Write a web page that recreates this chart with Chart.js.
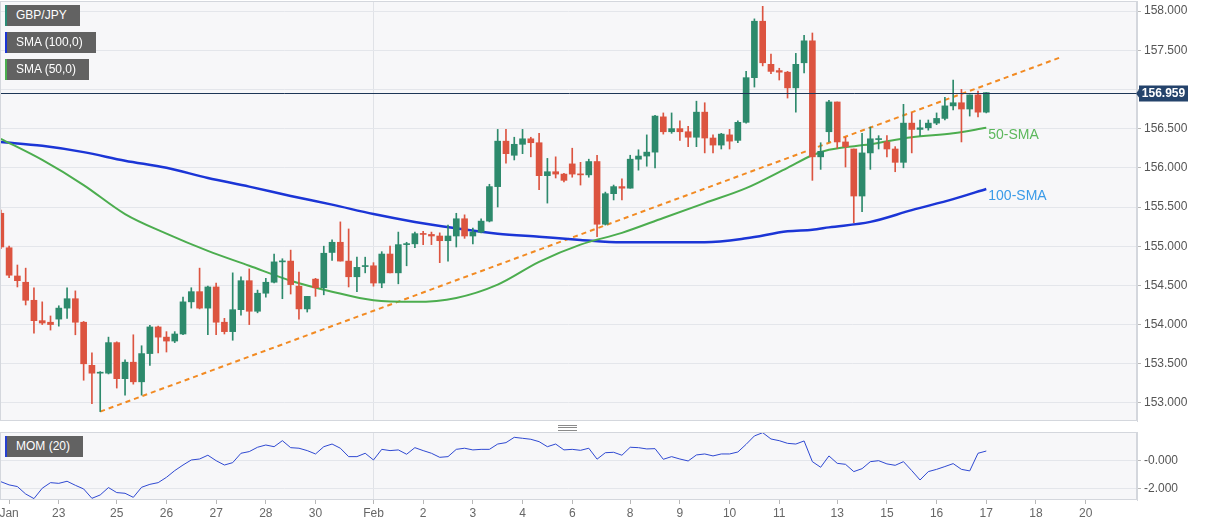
<!DOCTYPE html>
<html>
<head>
<meta charset="utf-8">
<title>GBP/JPY 4H</title>
<script src="https://cdn.jsdelivr.net/npm/chart.js@4.4.1/dist/chart.umd.min.js"></script>
<style>
  html, body { margin: 0; padding: 0; background: #fff; }
  #wrap { position: relative; width: 1207px; height: 526px; overflow: hidden; font-family: 'Liberation Sans', Arial, sans-serif; }
  #main { position: absolute; left: 0; top: 0; }
  #mom { position: absolute; left: 0; top: 422px; }
  .tag { position: absolute; left: 5px; height: 21px; line-height: 21px; background: #626262; color: #fff;
         font-size: 12px; padding: 0 13px 0 9px; border-left: 2px solid; white-space: nowrap; }
  .grip { position: absolute; left: 558px; top: 425px; width: 19px; height: 4px; border-top: 1px solid #8a8a8a; border-bottom: 1px solid #8a8a8a; }
  .grip div { margin-top: 1px; border-top: 1px solid #8a8a8a; }
</style>
</head>
<body>
<div id="wrap">
  <canvas id="main" width="1207" height="422"></canvas>
  <canvas id="mom" width="1207" height="104"></canvas>
  <div class="tag" style="top:5px;border-color:#2a8c76">GBP/JPY</div>
  <div class="tag" style="top:32px;border-color:#1b35d6">SMA (100,0)</div>
  <div class="tag" style="top:59px;border-color:#4caf50">SMA (50,0)</div>
  <div class="tag" style="top:436px;border-color:#2740d0">MOM (20)</div>
  <div class="grip"><div></div></div>
</div>
<script>
// 4-hour candles, index 0 = first candle on the left edge
const opens = [
  155.42, 154.98, 154.62, 154.54, 154.31, 154.05, 154.03, 154.07, 154.21, 154.33,
  154.03, 153.48, 153.38, 153.38, 153.77, 153.31, 153.52, 153.27, 153.63, 153.97,
  153.84, 153.79, 153.88, 154.29, 154.42, 154.21, 154.48, 154.03, 153.91, 154.19,
  154.56, 154.17, 154.40, 154.54, 154.80, 154.81, 154.49, 154.20, 154.58, 154.47,
  154.92, 155.05, 154.81, 154.61, 154.74, 154.75, 154.53, 154.90, 154.66, 155.02,
  155.03, 155.16, 155.15, 155.13, 155.07, 155.13, 155.35, 155.13, 155.18, 155.32,
  155.76, 156.34, 156.16, 156.30, 156.37, 156.32, 155.90, 155.95, 155.92, 156.05,
  155.92, 155.91, 156.08, 155.28, 155.67, 155.76, 155.74, 156.11, 156.15, 156.20,
  156.65, 156.46, 156.50, 156.46, 156.39, 156.71, 156.38, 156.29, 156.42, 156.35,
  156.58, 157.15, 157.87, 157.32, 157.24, 157.22, 157.02, 157.34, 157.62, 156.14,
  156.46, 156.84, 156.33, 156.24, 155.64, 156.19, 156.36, 156.33, 156.24, 156.07,
  156.57, 156.49, 156.51, 156.57, 156.63, 156.79, 156.83, 156.75, 156.93, 156.71
];
const highs = [
  155.46, 155.00, 154.76, 154.72, 154.47, 154.29, 154.11, 154.24, 154.47, 154.43,
  154.04, 153.64, 153.40, 153.84, 153.78, 153.55, 153.87, 153.73, 153.99, 153.98,
  153.91, 153.91, 154.35, 154.47, 154.72, 154.49, 154.53, 154.08, 154.66, 154.61,
  154.71, 154.44, 154.59, 154.90, 154.84, 154.95, 154.67, 154.36, 154.59, 155.00,
  155.08, 155.31, 155.22, 154.86, 154.86, 154.79, 154.93, 155.00, 155.18, 155.05,
  155.18, 155.19, 155.18, 155.17, 155.27, 155.42, 155.40, 155.23, 155.35, 155.79,
  156.49, 156.49, 156.39, 156.49, 156.39, 156.44, 156.12, 156.14, 155.93, 156.25,
  156.07, 156.11, 156.16, 155.69, 155.78, 155.86, 156.16, 156.23, 156.42, 156.67,
  156.70, 156.70, 156.60, 156.53, 156.85, 156.83, 156.42, 156.44, 156.49, 156.60,
  157.23, 157.90, 158.06, 157.45, 157.27, 157.23, 157.46, 157.69, 157.72, 156.32,
  156.86, 156.84, 156.39, 156.24, 156.44, 156.52, 156.41, 156.41, 156.27, 156.81,
  156.70, 156.61, 156.61, 156.70, 156.90, 157.12, 157.00, 156.93, 156.98, 156.96
];
const lows = [
  154.97, 154.60, 154.48, 154.25, 153.89, 154.00, 153.93, 153.98, 154.08, 153.87,
  153.29, 152.99, 152.89, 153.37, 153.19, 153.10, 153.24, 153.10, 153.48, 153.64,
  153.65, 153.77, 153.87, 154.21, 154.20, 153.87, 153.87, 153.88, 153.80, 154.12,
  154.00, 154.15, 154.35, 154.53, 154.33, 154.39, 154.07, 154.16, 154.36, 154.38,
  154.82, 154.81, 154.48, 154.42, 154.66, 154.49, 154.47, 154.66, 154.52, 154.75,
  154.98, 155.02, 155.02, 154.79, 154.81, 154.99, 155.10, 155.03, 155.17, 155.31,
  155.50, 156.06, 156.10, 156.18, 156.14, 155.72, 155.55, 155.87, 155.82, 155.88,
  155.78, 155.88, 155.12, 155.27, 155.59, 155.59, 155.74, 155.97, 156.02, 156.00,
  156.43, 156.44, 156.35, 156.27, 156.27, 156.19, 156.19, 156.24, 156.24, 156.32,
  156.57, 157.03, 157.30, 157.20, 157.12, 156.89, 156.71, 157.21, 155.84, 155.98,
  156.33, 156.25, 156.01, 155.30, 155.44, 155.98, 156.24, 156.14, 155.95, 156.00,
  156.19, 156.41, 156.48, 156.55, 156.61, 156.74, 156.33, 156.66, 156.65, 156.70
];
const closes = [
  154.99, 154.63, 154.56, 154.31, 154.05, 154.02, 154.00, 154.21, 154.33, 154.03,
  153.50, 153.38, 153.39, 153.77, 153.31, 153.52, 153.27, 153.63, 153.97, 153.84,
  153.79, 153.88, 154.29, 154.42, 154.21, 154.48, 154.03, 153.91, 154.19, 154.56,
  154.17, 154.40, 154.54, 154.80, 154.81, 154.51, 154.20, 154.36, 154.47, 154.91,
  155.05, 154.81, 154.61, 154.73, 154.75, 154.53, 154.90, 154.66, 155.02, 155.03,
  155.16, 155.15, 155.13, 155.07, 155.13, 155.35, 155.13, 155.18, 155.32, 155.76,
  156.34, 156.18, 156.30, 156.37, 156.32, 155.90, 155.95, 155.92, 155.84, 155.92,
  155.91, 156.08, 155.28, 155.67, 155.76, 155.74, 156.11, 156.15, 156.20, 156.66,
  156.46, 156.50, 156.46, 156.39, 156.71, 156.38, 156.29, 156.43, 156.34, 156.58,
  157.15, 157.87, 157.34, 157.23, 157.22, 157.02, 157.32, 157.62, 156.14, 156.21,
  156.84, 156.33, 156.27, 155.64, 156.19, 156.37, 156.36, 156.24, 156.07, 156.57,
  156.49, 156.51, 156.57, 156.63, 156.79, 156.83, 156.75, 156.93, 156.71, 156.959
];

// moving averages, read at these candle indices
const smaIdx = [0, 5, 10, 15, 20, 25, 30, 35, 40, 45, 50, 55, 60, 65, 70, 75, 80, 85, 90, 95, 98, 100, 105, 110, 115, 119];
const sma100 = [156.33, 156.28, 156.20, 156.09, 156.00, 155.87, 155.76, 155.64, 155.53, 155.41, 155.31, 155.23, 155.16,
                155.12, 155.08, 155.05, 155.05, 155.05, 155.10, 155.19, 155.21, 155.24, 155.31, 155.46, 155.60, 155.73];
const sma50 = [156.37, 156.10, 155.78, 155.41, 155.16, 154.94, 154.75, 154.56, 154.42, 154.31, 154.29, 154.34, 154.51,
               154.80, 155.02, 155.17, 155.36, 155.55, 155.74, 156.00, 156.16, 156.23, 156.30, 156.39, 156.44, 156.51];

// rising support line
const trendIdx = [12, 128];
const trendVal = [152.89, 157.41];

// momentum (20)
const mom = [
  -1.48, -1.71, -1.83, -2.36, -2.69, -1.95, -1.55, -1.60, -1.45, -1.74,
  -2.00, -2.67, -2.43, -1.90, -2.26, -2.31, -2.60, -1.88, -1.67, -1.55,
  -1.17, -0.69, -0.29, 0.07, 0.14, 0.41, 0.02, -0.29, -0.12, 0.55,
  0.67, 0.98, 1.14, 1.02, 1.45, 0.95, 0.91, 0.74, 0.50, 1.02,
  1.21, 0.91, 0.31, 0.31, 0.55, 0.07, 0.83, 0.74, 0.79, 0.48,
  0.95, 0.74, 0.55, 0.26, 0.31, 0.83, 0.91, 0.79, 0.83, 0.83,
  1.21, 1.31, 1.69, 1.62, 1.55, 1.38, 1.02, 1.21, 0.79, 0.83,
  0.76, 0.91, 0.13, 0.59, 0.62, 0.41, 0.98, 0.95, 0.86, 0.88,
  0.12, 0.31, 0.14, 0.00, 0.43, 0.50, 0.36, 0.50, 0.50, 0.64,
  1.19, 1.79, 2.02, 1.57, 1.45, 1.26, 1.21, 1.43, -0.05, -0.45,
  0.36, -0.17, -0.24, -0.76, -0.55, -0.05, 0.02, -0.21, -0.31, -0.05,
  -0.69, -1.36, -0.76, -0.60, -0.40, -0.19, -0.60, -0.71, 0.55, 0.71
];

const dayTicks = [1, 7, 14, 20, 26, 32, 38, 45, 51, 57, 63, 69, 76, 82, 88, 94, 101, 107, 113, 119, 125, 131];
const dayLabels = ['Jan', '23', '25', '26', '27', '28', '30', 'Feb', '2', '3', '4', '6', '8', '9', '10', '11', '13', '15', '16', '17', '18', '20'];
const priceTicks = [153, 153.5, 154, 154.5, 155, 155.5, 156, 156.5, 157, 157.5, 158];
const momTicks = [-2, 0];
const momTickLabels = ['-2.000', '-0.000'];
const lastPrice = 156.959;

const FONT = "'Liberation Sans', Arial, sans-serif";
const UP = '#2d8a6c', DOWN = '#dc5440';
const febTick = dayTicks[dayLabels.indexOf('Feb')];
const X_MIN = -0.1, X_MAX = 137.2;

const candleColors = opens.map((o, i) => closes[i] >= o ? UP : DOWN);

const panel = {
  id: 'panel',
  beforeDraw(chart) {
    const { ctx, chartArea: a } = chart;
    ctx.save();
    ctx.fillStyle = '#f7f7f9';
    ctx.fillRect(a.left, a.top, a.right - a.left, a.bottom - a.top);
    ctx.restore();
  },
  afterDraw(chart) {
    const { ctx, chartArea: a } = chart;
    ctx.save();
    ctx.strokeStyle = '#d4d7dd';
    ctx.lineWidth = 1;
    ctx.strokeRect(a.left + 0.5, a.top + 0.5, a.right - a.left - 1, a.bottom - a.top - 1);
    ctx.restore();
  }
};

const priceMarks = {
  id: 'priceMarks',
  afterDatasetsDraw(chart) {
    const { ctx, chartArea: a, scales } = chart;
    const y = Math.round(scales.y.getPixelForValue(lastPrice)) + 0.5;
    ctx.save();
    ctx.strokeStyle = '#1d3657';
    ctx.lineWidth = 1;
    ctx.beginPath();
    ctx.moveTo(a.left, y);
    ctx.lineTo(a.right + 2, y);
    ctx.stroke();

    // end labels of the moving averages
    chart.data.datasets.forEach((ds, i) => {
      if (!ds.endLabel) return;
      const pts = chart.getDatasetMeta(i).data;
      const p = pts[pts.length - 1];
      ctx.fillStyle = ds.labelColor;
      ctx.font = '14px ' + FONT;
      ctx.textBaseline = 'middle';
      ctx.textAlign = 'left';
      ctx.fillText(ds.endLabel, p.x + 2, p.y + 7);
    });
    ctx.restore();
  },
  afterDraw(chart) {
    const { ctx, chartArea: a, scales } = chart;
    const y = Math.round(scales.y.getPixelForValue(lastPrice)) + 0.5;
    const x0 = a.right + 2;
    ctx.save();
    ctx.fillStyle = '#24436b';
    ctx.beginPath();
    ctx.moveTo(a.right - 1, y);
    ctx.lineTo(x0, y - 4);
    ctx.lineTo(x0, y + 4);
    ctx.closePath();
    ctx.fill();
    ctx.fillRect(x0, y - 8, 49, 16);
    ctx.fillStyle = '#fff';
    ctx.font = 'bold 12px ' + FONT;
    ctx.textAlign = 'center';
    ctx.textBaseline = 'middle';
    ctx.fillText(lastPrice.toFixed(3), x0 + 24.5, y + 0.5);
    ctx.restore();
  }
};

function fixY(s) { s.width = 70; s.paddingTop = 0; s.paddingBottom = 0; }
function fixX(s) { s.paddingLeft = 0; s.paddingRight = 0; }

const xGrid = {
  offset: false,
  color: c => (c.tick && c.tick.value === febTick) ? '#e0e2e7' : 'rgba(0,0,0,0)',
  tickColor: '#b8b8b8',
  tickLength: 4
};

new Chart(document.getElementById('main'), {
  type: 'bar',
  data: {
    datasets: [
      {
        label: 'body',
        data: opens.map((o, i) => ({ x: i, y: [o, closes[i]] })),
        backgroundColor: candleColors,
        barThickness: 6,
        minBarLength: 1,
        grouped: false,
        order: 0
      },
      {
        label: 'wick',
        data: lows.map((l, i) => ({ x: i, y: [l, highs[i]] })),
        backgroundColor: candleColors,
        barThickness: 1,
        grouped: false,
        order: 1
      },
      {
        type: 'line',
        label: 'SMA (50,0)',
        data: smaIdx.map((x, i) => ({ x, y: sma50[i] })),
        borderColor: '#4cad4f',
        borderWidth: 2,
        pointRadius: 0,
        cubicInterpolationMode: 'monotone',
        endLabel: '50-SMA',
        labelColor: '#5cb85c',
        order: 2
      },
      {
        type: 'line',
        label: 'SMA (100,0)',
        data: smaIdx.map((x, i) => ({ x, y: sma100[i] })),
        borderColor: '#1b35d6',
        borderWidth: 2.5,
        pointRadius: 0,
        cubicInterpolationMode: 'monotone',
        endLabel: '100-SMA',
        labelColor: '#3a9be8',
        order: 3
      },
      {
        type: 'line',
        label: 'trend',
        data: trendIdx.map((x, i) => ({ x, y: trendVal[i] })),
        borderColor: '#f28a22',
        borderWidth: 2,
        borderDash: [5, 4],
        pointRadius: 0,
        order: 4
      }
    ]
  },
  options: {
    responsive: false,
    animation: false,
    layout: { padding: { top: 1, bottom: 1, left: 0, right: 0 } },
    plugins: { legend: { display: false }, tooltip: { enabled: false } },
    scales: {
      x: {
        type: 'linear', min: X_MIN, max: X_MAX, offset: false,
        afterBuildTicks: s => { s.ticks = dayTicks.map(v => ({ value: v })); },
        afterFit: fixX,
        ticks: { display: false },
        grid: Object.assign({}, xGrid, { drawTicks: false }),
        border: { display: false }
      },
      y: {
        position: 'right', min: 152.77, max: 158.128,
        afterBuildTicks: s => { s.ticks = priceTicks.map(v => ({ value: v })); },
        afterFit: fixY,
        ticks: {
          // the last-price tag covers the tick label next to it
          callback: v => Math.abs(v - lastPrice) < 0.1 ? '' : v.toFixed(3),
          color: '#555', padding: 3, font: { size: 12, family: FONT }
        },
        grid: { color: '#e4e6eb', tickLength: 4, tickColor: '#b8b8b8' },
        border: { color: '#d4d7dd' }
      }
    }
  },
  plugins: [panel, priceMarks]
});

new Chart(document.getElementById('mom'), {
  type: 'line',
  data: {
    datasets: [{
      label: 'MOM (20)',
      data: mom.map((v, i) => ({ x: i, y: v })),
      borderColor: '#2f49d2',
      borderWidth: 1,
      pointRadius: 0,
      tension: 0
    }]
  },
  options: {
    responsive: false,
    animation: false,
    layout: { padding: { top: 10, bottom: 0, left: 0, right: 0 } },
    plugins: { legend: { display: false }, tooltip: { enabled: false } },
    scales: {
      x: {
        type: 'linear', min: X_MIN, max: X_MAX, offset: false,
        afterBuildTicks: s => { s.ticks = dayTicks.map(v => ({ value: v })); },
        afterFit: s => { fixX(s); s.height = 26; },
        ticks: {
          autoSkip: false, maxRotation: 0, padding: 2, color: '#666', font: { size: 12, family: FONT },
          callback: v => dayLabels[dayTicks.indexOf(v)]
        },
        grid: xGrid,
        border: { display: false }
      },
      y: {
        position: 'right', min: -2.79, max: 2.07,
        afterBuildTicks: s => { s.ticks = momTicks.map(v => ({ value: v })); },
        afterFit: fixY,
        ticks: {
          color: '#555', padding: 3, font: { size: 12, family: FONT },
          callback: v => momTickLabels[momTicks.indexOf(v)]
        },
        grid: { color: '#e4e6eb', tickLength: 4, tickColor: '#b8b8b8' },
        border: { color: '#d4d7dd' }
      }
    }
  },
  plugins: [panel]
});
</script>
</body>
</html>
